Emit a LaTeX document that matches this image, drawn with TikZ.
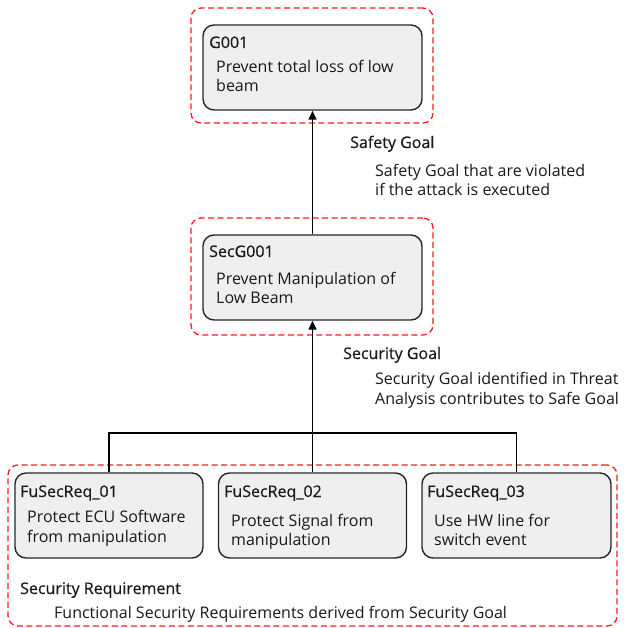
\documentclass[tikz,border=0pt]{standalone}
\usepackage{fontspec}
\setmainfont{Open Sans}
\newfontfamily\headfont[FakeBold=0.5]{Open Sans}
\usetikzlibrary{arrows.meta}
\definecolor{boxgray}{HTML}{EFEFEF}
\definecolor{dashred}{HTML}{FF1A1A}
\begin{document}
\begin{tikzpicture}[x=1pt,y=-1pt,
  gbox/.style={draw=black!85, line width=1.4pt, fill=boxgray, rounded corners=11pt, inner sep=0pt},
  redframe/.style={draw=dashred, line width=1.3pt, dash pattern=on 6pt off 3.5pt, rounded corners=10pt, inner sep=0pt},
  txt/.style={anchor=base west, inner sep=0pt, font=\fontsize{16}{20}\selectfont, text=black!90},
  head/.style={txt, font=\fontsize{16}{20}\headfont},
  conn/.style={draw=black, line width=1.5pt},
  arr/.style={conn, -{Triangle[width=8pt,length=9pt]}}
]
\useasboundingbox (0,0) rectangle (624,628);

% red dashed frames
\node[redframe, minimum width=242pt, minimum height=115pt] (f1) at (312,65.5) {};
\node[redframe, minimum width=242pt, minimum height=117pt] (f2) at (312,276.5) {};
\node[redframe, minimum width=609pt, minimum height=161pt] (f3) at (312.5,545.5) {};

% gray boxes
\node[gbox, minimum width=219pt, minimum height=85pt] (g1) at (312.5,67.5) {};
\node[gbox, minimum width=219pt, minimum height=85pt] (sg) at (312.5,277.5) {};
\node[gbox, minimum width=188pt, minimum height=85pt] (r1) at (109,515.5) {};
\node[gbox, minimum width=188pt, minimum height=85pt] (r2) at (312.5,515.5) {};
\node[gbox, minimum width=189pt, minimum height=85pt] (r3) at (516.5,515.5) {};

% connectors
\coordinate (bar) at (312.5,433);
\draw[arr] (sg.north) -- (g1.south);
\draw[arr] (r2.north) -- (sg.south);
\draw[conn] (r1.north) |- (bar) -| (r3.north);

% texts in boxes
\node[head] (t1) at (209,48) {G001};
\node[txt] (t1a) at (216,73) {Prevent total loss of low};
\node[txt] (t1b) at (216,92) {beam};

\node[head] (t2) at (209,257) {SecG001};
\node[txt] (t2a) at (216,284) {Prevent Manipulation of};
\node[txt] (t2b) at (216,303) {Low Beam};

\node[head] (t3) at (20,497) {FuSecReq\_01};
\node[txt] (t3a) at (27,522) {Protect ECU Software};
\node[txt] (t3b) at (27,542) {from manipulation};

\node[head] (t4) at (224,497) {FuSecReq\_02};
\node[txt] (t4a) at (231,526) {Protect Signal from};
\node[txt] (t4b) at (231,545) {manipulation};

\node[head] (t5) at (427,497) {FuSecReq\_03};
\node[txt] (t5a) at (434,526) {Use HW line for};
\node[txt] (t5b) at (434,545) {switch event};

% annotations
\node[head] (l1) at (350,148) {Safety Goal};
\node[txt] (l1a) at (375,177) {Safety Goal that are violated};
\node[txt] (l1b) at (375,196) {if the attack is executed};

\node[head] (l2) at (343,359) {Security Goal};
\node[txt] (l2a) at (375,384) {Security Goal identified in Threat};
\node[txt] (l2b) at (375,404) {Analysis contributes to Safe Goal};

\node[head] (l3) at (20,594) {Security Requirement};
\node[txt] (l3a) at (54,618) {Functional Security Requirements derived from Security Goal};
\end{tikzpicture}
\end{document}
